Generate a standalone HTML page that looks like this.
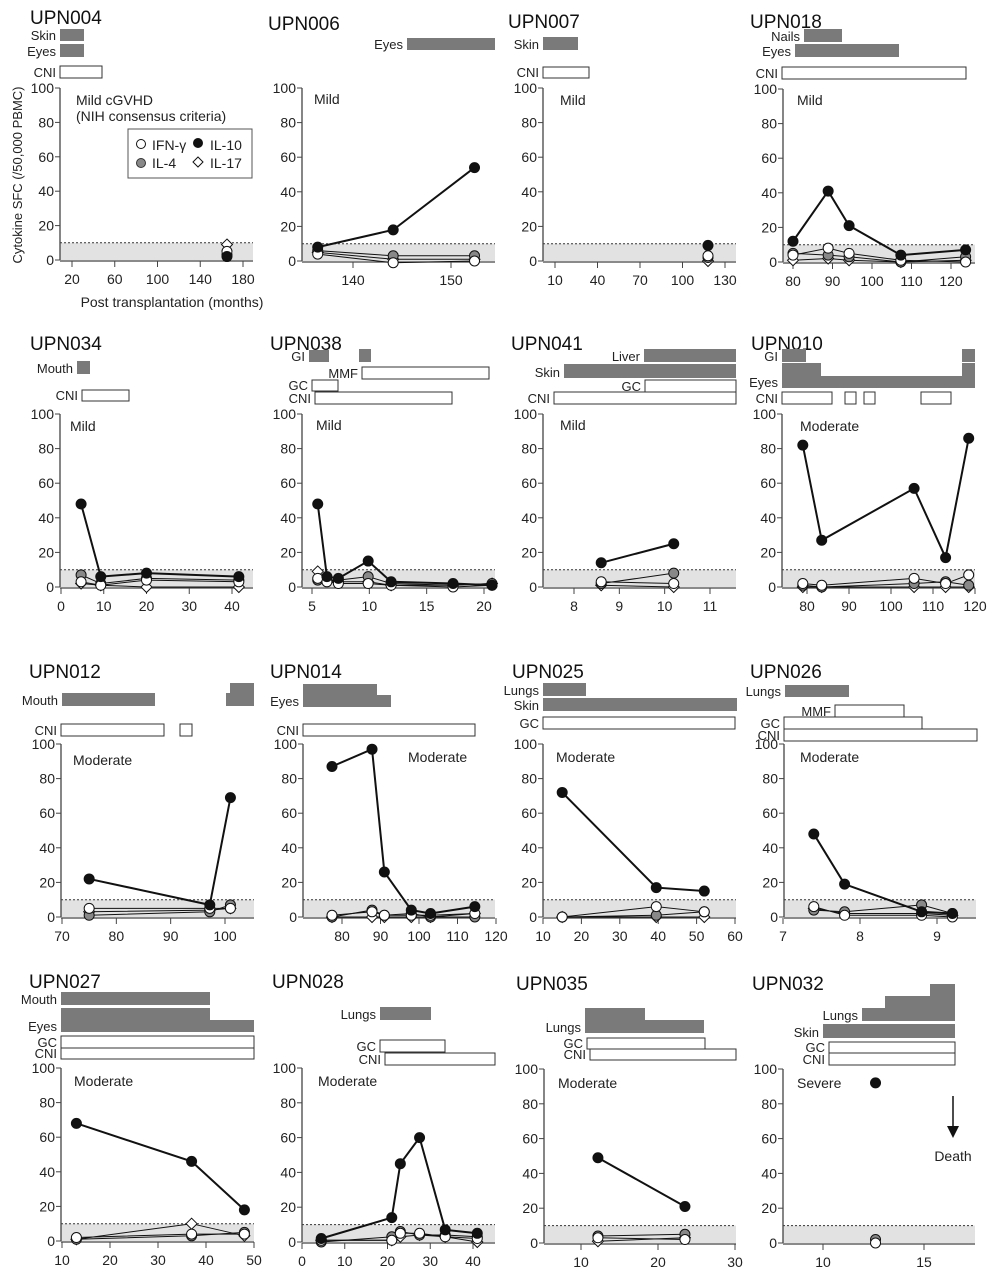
<!DOCTYPE html>
<html><head><meta charset="utf-8">
<style>
html,body{margin:0;padding:0;background:#fff;}
svg{display:block;font-family:"Liberation Sans Narrow","Liberation Sans",sans-serif;}
</style></head>
<body>
<svg id="fig" xmlns="http://www.w3.org/2000/svg" width="995" height="1280" viewBox="0 0 995 1280">
<text transform="translate(22,175) rotate(-90)" text-anchor="middle" font-size="13" fill="#222">Cytokine SFC (/50,000 PBMC)</text>
<text x="172" y="307" text-anchor="middle" font-size="14" fill="#222">Post transplantation (months)</text>
<g>
<rect x="128" y="129" width="124" height="49" fill="#fff" stroke="#555" stroke-width="1"/>
<circle cx="141" cy="144" r="4.5" fill="#fff" stroke="#111"/><text x="152" y="150" font-size="14" fill="#222">IFN-γ</text>
<circle cx="198" cy="143" r="4.5" fill="#111" stroke="#111"/><text x="210" y="150" font-size="14" fill="#222">IL-10</text>
<circle cx="141" cy="163" r="4.5" fill="#888" stroke="#333"/><text x="152" y="168" font-size="14" fill="#222">IL-4</text>
<path d="M198 157 L203 162 L198 167 L193 162 Z" fill="#fff" stroke="#111"/><text x="210" y="168" font-size="14" fill="#222">IL-17</text>
</g>
</svg>
<script>
// ---- data arrays (months, SFC values) ----
const p004_x=[165], p004_il10=[2], p004_il4=[3], p004_ifn=[5], p004_il17=[9];
const p006_x=[136.4,144.1,152.4], p006_il10=[8,18,54], p006_il4=[6,3,3], p006_ifn=[4,-1,0], p006_il17=[5,1,1];
const p007_x=[118], p007_il10=[9], p007_il4=[2], p007_ifn=[3], p007_il17=[0];
const p018_x=[80,88.9,94.2,107.3,123.7], p018_il10=[12,41,21,4,7], p018_il4=[5,4,3,0,3], p018_ifn=[4,8,5,1,0], p018_il17=[1,2,1,0,1];
const p034_x=[4.7,9.3,20,41.6], p034_il10=[48,6,8,6], p034_il4=[7,2,5,4], p034_ifn=[3,1,4,3], p034_il17=[2,1,0,0];
const p038_x=[5.5,6.3,7.3,9.9,11.9,17.3,20.7], p038_il10=[48,6,5,15,3,2,1], p038_il4=[4,4,4,6,2,1,2], p038_ifn=[5,3,2,2,1,0,1], p038_il17=[9,4,3,3,1,1,2];
const p041_x=[8.6,10.2], p041_il10=[14,25], p041_il4=[2,8], p041_ifn=[3,2], p041_il17=[1,0];
const p010_x=[79,83.5,105.5,113,118.5], p010_il10=[82,27,57,17,86], p010_il4=[1,0,2,3,1], p010_ifn=[2,1,5,2,7], p010_il17=[0,0,0,0,0];
const p012_x=[75,97.2,101], p012_il10=[22,7,69], p012_il4=[1,3,7], p012_ifn=[5,5,5], p012_il17=[3,4,5];
const p014_x=[77.4,87.8,91,98,103,114.5], p014_il10=[87,97,26,4,2,6], p014_il4=[0,4,1,2,0,0], p014_ifn=[1,3,1,1,1,2], p014_il17=[0,0,0,0,0,2];
const p025_x=[15,39.5,52], p025_il10=[72,17,15], p025_il4=[0,1,3], p025_ifn=[0,6,3], p025_il17=[0,0,0];
const p026_x=[7.4,7.8,8.8,9.2], p026_il10=[48,19,3,2], p026_il4=[4,3,7,2], p026_ifn=[6,1,1,0], p026_il17=[5,2,2,1];
const p027_x=[13,37,48], p027_il10=[68,46,18], p027_il4=[1,3,5], p027_ifn=[2,4,4], p027_il17=[1,10,3];
const p028_x=[4.5,21,23,27.5,33.5,41], p028_il10=[2,14,45,60,7,5], p028_il4=[0,3,6,4,4,3], p028_ifn=[1,1,5,5,3,2], p028_il17=[1,1,3,4,3,0];
const p035_x=[12.2,23.5], p035_il10=[49,21], p035_il4=[4,5], p035_ifn=[3,2], p035_il17=[1,3];
const p032_x=[12.6], p032_il10=[92], p032_il4=[2], p032_ifn=[0], p032_il17=[];
const yTicks=[0,20,40,60,80,100];

const NS="http://www.w3.org/2000/svg";
const svg=document.getElementById('fig');
function mk(tag,attrs,parent){const e=document.createElementNS(NS,tag);for(const k in attrs)e.setAttribute(k,attrs[k]);(parent||svg).appendChild(e);return e;}

// layout: axis px, right px, y0 px, y100 px, x anchors [v1,p1,v2,p2], tick values
const panels=[
{id:'UPN004',tx:30,ty:24,ax:60,rt:253,y0:260,y100:88,xa:[20,72,180,243],ticks:[20,60,100,140,180],sev:['Mild cGVHD','(NIH consensus criteria)'],sx:76,sy:105,
 bars:[['Skin',60,84,29,41,1],['Eyes',60,84,44,57,1],['CNI',60,102,66,78,0]],d:[p004_x,p004_il10,p004_il4,p004_ifn,p004_il17]},
{id:'UPN006',tx:268,ty:30,ax:302,rt:495,y0:261,y100:88,xa:[140,353,150,451],ticks:[140,150],sev:['Mild'],sx:314,sy:104,
 bars:[['Eyes',407,495,38,50,1]],d:[p006_x,p006_il10,p006_il4,p006_ifn,p006_il17]},
{id:'UPN007',tx:508,ty:28,ax:543,rt:736,y0:261,y100:88,xa:[10,555,130,725],ticks:[10,40,70,100,130],sev:['Mild'],sx:560,sy:105,
 bars:[['Skin',543,578,37,50,1],['CNI',543,589,67,78,0]],d:[p007_x,p007_il10,p007_il4,p007_ifn,p007_il17]},
{id:'UPN018',tx:750,ty:28,ax:783,rt:975,y0:262,y100:89,xa:[80,793,120,951],ticks:[80,90,100,110,120],sev:['Mild'],sx:797,sy:105,
 bars:[['Nails',804,842,29,42,1],['Eyes',795,899,44,57,1],['CNI',782,966,67,79,0]],d:[p018_x,p018_il10,p018_il4,p018_ifn,p018_il17]},
{id:'UPN034',tx:30,ty:350,ax:60,rt:253,y0:587,y100:414,xa:[0,61,40,232],ticks:[0,10,20,30,40],sev:['Mild'],sx:70,sy:431,
 bars:[['Mouth',77,90,361,374,1],['CNI',82,129,390,401,0]],d:[p034_x,p034_il10,p034_il4,p034_ifn,p034_il17]},
{id:'UPN038',tx:270,ty:350,ax:302,rt:495,y0:587,y100:414,xa:[5,312,20,484],ticks:[5,10,15,20],sev:['Mild'],sx:316,sy:430,
 bars:[['GI',309,329,350,362,1],['',359,371,349,362,1],['MMF',362,489,367,379,0],['GC',312,338,380,391,0],['CNI',315,452,392,404,0]],d:[p038_x,p038_il10,p038_il4,p038_ifn,p038_il17]},
{id:'UPN041',tx:511,ty:350,ax:543,rt:736,y0:587,y100:414,xa:[8,574,11,710],ticks:[8,9,10,11],sev:['Mild'],sx:560,sy:430,
 bars:[['Liver',644,736,349,362,1],['Skin',564,736,364,378,1],['GC',645,736,380,392,0],['CNI',554,736,392,404,0]],d:[p041_x,p041_il10,p041_il4,p041_ifn,p041_il17]},
{id:'UPN010',tx:751,ty:350,ax:782,rt:975,y0:587,y100:414,xa:[80,807,120,975],ticks:[80,90,100,110,120],sev:['Moderate'],sx:800,sy:431,
 bars:[['GI',782,806,349,362,1],['',962,975,349,362,1],['Eyes',782,821,363,388,1],['',821,962,376,388,1],['',962,975,363,388,1],
       ['CNI',782,832,392,404,0],['',845,856,392,404,0],['',864,875,392,404,0],['',921,951,392,404,0]],d:[p010_x,p010_il10,p010_il4,p010_ifn,p010_il17]},
{id:'UPN012',tx:29,ty:678,ax:61,rt:254,y0:917,y100:744,xa:[70,62,100,225],ticks:[70,80,90,100],sev:['Moderate'],sx:73,sy:765,
 bars:[['Mouth',62,155,693,706,1],['',226,254,693,706,1],['',230,254,683,693,1],['CNI',61,164,724,736,0],['',180,192,724,736,0]],d:[p012_x,p012_il10,p012_il4,p012_ifn,p012_il17]},
{id:'UPN014',tx:270,ty:678,ax:303,rt:495,y0:917,y100:744,xa:[80,342,120,496],ticks:[80,90,100,110,120],sev:['Moderate'],sx:408,sy:762,
 bars:[['Eyes',303,377,684,707,1],['',377,391,695,707,1],['CNI',303,475,724,736,0]],d:[p014_x,p014_il10,p014_il4,p014_ifn,p014_il17]},
{id:'UPN025',tx:512,ty:678,ax:543,rt:736,y0:917,y100:744,xa:[10,543,60,735],ticks:[10,20,30,40,50,60],sev:['Moderate'],sx:556,sy:762,
 bars:[['Lungs',543,586,683,696,1],['Skin',543,737,698,711,1],['GC',543,735,717,729,0]],d:[p025_x,p025_il10,p025_il4,p025_ifn,p025_il17]},
{id:'UPN026',tx:750,ty:678,ax:784,rt:976,y0:917,y100:744,xa:[7,783,9,937],ticks:[7,8,9],sev:['Moderate'],sx:800,sy:762,
 bars:[['Lungs',785,849,685,697,1],['MMF',835,904,705,717,0],['GC',784,922,717,729,0],['CNI',784,977,729,741,0]],d:[p026_x,p026_il10,p026_il4,p026_ifn,p026_il17]},
{id:'UPN027',tx:29,ty:988,ax:61,rt:254,y0:1241,y100:1068,xa:[10,62,50,254],ticks:[10,20,30,40,50],sev:['Moderate'],sx:74,sy:1086,
 bars:[['Mouth',61,210,992,1005,1],['Eyes',61,210,1008,1032,1],['',210,254,1020,1032,1],['GC',61,254,1036,1048,0],['CNI',61,254,1048,1059,0]],d:[p027_x,p027_il10,p027_il4,p027_ifn,p027_il17]},
{id:'UPN028',tx:272,ty:988,ax:302,rt:495,y0:1242,y100:1068,xa:[0,302,40,473],ticks:[0,10,20,30,40],sev:['Moderate'],sx:318,sy:1086,
 bars:[['Lungs',380,431,1007,1020,1],['GC',380,445,1040,1052,0],['CNI',385,495,1053,1065,0]],d:[p028_x,p028_il10,p028_il4,p028_ifn,p028_il17]},
{id:'UPN035',tx:516,ty:990,ax:544,rt:736,y0:1243,y100:1069,xa:[10,581,30,735],ticks:[10,20,30],sev:['Moderate'],sx:558,sy:1088,
 bars:[['Lungs',585,645,1008,1033,1],['',645,704,1020,1033,1],['GC',587,705,1038,1049,0],['CNI',590,736,1049,1060,0]],d:[p035_x,p035_il10,p035_il4,p035_ifn,p035_il17]},
{id:'UPN032',tx:752,ty:990,ax:783,rt:975,y0:1243,y100:1069,xa:[10,823,15,924],ticks:[10,15],sev:['Severe'],sx:797,sy:1088,
 bars:[['Lungs',862,885,1008,1021,1],['',885,930,996,1021,1],['',930,955,984,1021,1],['Skin',823,955,1024,1038,1],['GC',829,955,1042,1053,0],['CNI',829,955,1053,1065,0]],d:[p032_x,p032_il10,p032_il4,p032_ifn,p032_il17]}
];

panels.forEach(p=>{
  const g=mk('g',{});
  
  
  const sx=v=>p.xa[1]+(v-p.xa[0])*(p.xa[3]-p.xa[1])/(p.xa[2]-p.xa[0]);
  const sy=v=>p.y0+(v)*(p.y100-p.y0)/100;
  const t=mk('text',{x:p.tx,y:p.ty,'font-size':19,fill:'#111'},g);t.textContent=p.id;
  
  
  // bars
  p.bars.forEach(b=>{
    const r=mk('rect',{x:b[1],y:b[3],width:b[2]-b[1],height:b[4]-b[3],fill:b[5]?'#7a7a7a':'#fff',stroke:b[5]?'none':'#333','stroke-width':1},g);
    
    
    if(b[0]){const l=mk('text',{x:b[1]-4,y:b[4]-1,'text-anchor':'end','font-size':13,fill:'#222'},g);l.textContent=b[0];
      
      }
  });
  // band
  mk('rect',{x:p.ax,y:sy(10),width:p.rt-p.ax,height:p.y0-sy(10),fill:'#e2e2e2'},g);
  mk('line',{x1:p.ax,x2:p.rt,y1:sy(10),y2:sy(10),stroke:'#333','stroke-width':1,'stroke-dasharray':'2,2'},g);
  // axes
  mk('line',{x1:p.ax,x2:p.ax,y1:p.y100,y2:p.y0,stroke:'#444','stroke-width':1.3},g);
  mk('line',{x1:p.ax,x2:p.rt,y1:p.y0+1,y2:p.y0+1,stroke:'#444','stroke-width':1.3},g);
  yTicks.forEach(v=>{
    mk('line',{x1:p.ax-5,x2:p.ax,y1:sy(v),y2:sy(v),stroke:'#444'},g);
    const l=mk('text',{x:p.ax-6,y:sy(v)+5,'text-anchor':'end','font-size':14,fill:'#222'},g);l.textContent=v;
    
    
  });
  p.ticks.forEach(v=>{
    mk('line',{x1:sx(v),x2:sx(v),y1:p.y0+1,y2:p.y0+7,stroke:'#444'},g);
    const l=mk('text',{x:sx(v),y:p.y0+24,'text-anchor':'middle','font-size':14,fill:'#222'},g);l.textContent=v;
    
    
  });
  p.sev.forEach((s,i)=>{const l=mk('text',{x:p.sx,y:p.sy+i*16,'font-size':14,fill:'#222'},g);l.textContent=s;
    
    });
  // series: il17, il4, ifn, il10
  const xs=p.d[0];
  const specs=[[4,'il-17','diamond','#fff',1],[2,'il-4','circle','#888',1],[3,'ifn-gamma','circle','#fff',1],[1,'il-10','circle','#111',2]];
  specs.forEach(s=>{
    const ys=p.d[s[0]]; if(!ys.length)return;
    if(ys.length>1){
      const pts=ys.map((v,i)=>sx(xs[i])+','+sy(v)).join(' ');
      const pl=mk('polyline',{points:pts,fill:'none',stroke:'#111','stroke-width':s[4]},g);
      
      
    }
    ys.forEach((v,i)=>{
      const cx=sx(xs[i]),cy=sy(v);let m;
      if(s[2]==='diamond') m=mk('path',{d:`M${cx} ${cy-5.5} L${cx+5.5} ${cy} L${cx} ${cy+5.5} L${cx-5.5} ${cy} Z`,fill:'#fff',stroke:'#111'},g);
      else m=mk('circle',{cx:cx,cy:cy,r:5,fill:s[3],stroke:'#111','stroke-width':1},g);
      
      
    });
  });
});
// death arrow (UPN032)
const da=mk('g',{});


mk('line',{x1:953,x2:953,y1:1096,y2:1128,stroke:'#111','stroke-width':1.5},da);
mk('path',{d:'M947 1126 L959 1126 L953 1138 Z',fill:'#111'},da);
const dt=mk('text',{x:953,y:1161,'text-anchor':'middle','font-size':14,fill:'#222'},da);dt.textContent='Death';


</script>
</body></html>
